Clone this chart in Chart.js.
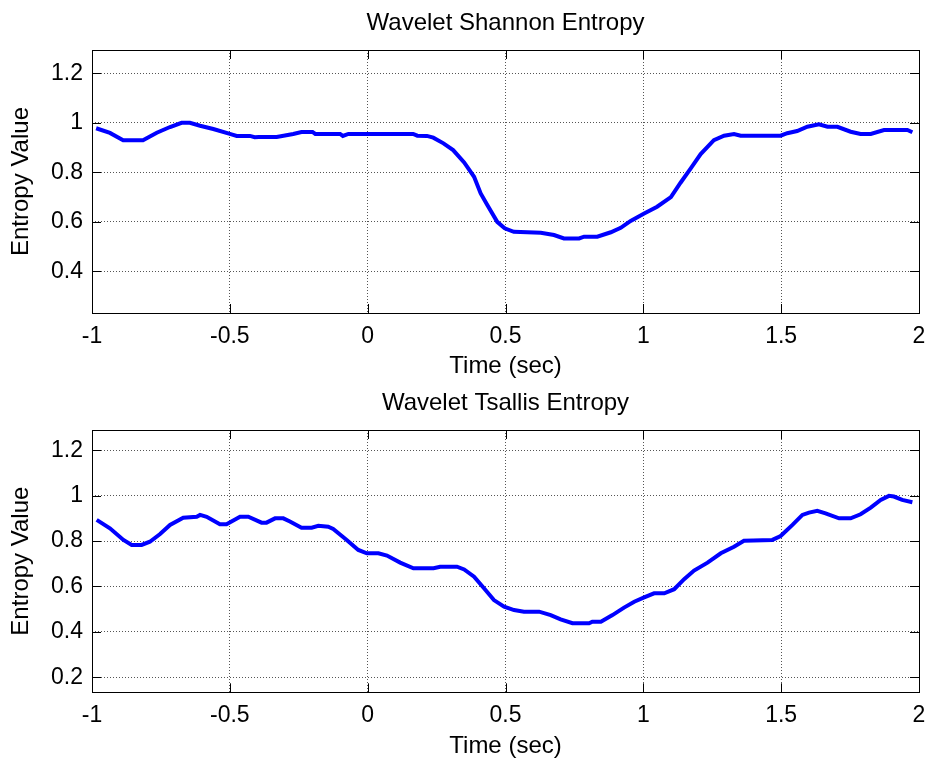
<!DOCTYPE html>
<html>
<head>
<meta charset="utf-8">
<script src="https://cdn.jsdelivr.net/npm/chart.js@4.4.1/dist/chart.umd.min.js"></script>
<style>
  html, body { margin: 0; padding: 0; background: #fff; }
  #wrap { position: relative; width: 928px; height: 762px; }
  canvas { position: absolute; left: 0; }
</style>
</head>
<body>
<div id="wrap">
  <canvas id="top" width="928" height="381" style="top:0"></canvas>
  <canvas id="bottom" width="928" height="381" style="top:381px"></canvas>
</div>
<script>
// values
var shannonTime = [-0.985,-0.935,-0.887,-0.815,-0.765,-0.717,-0.675,-0.645,-0.608,-0.56,-0.5,-0.475,-0.427,-0.41,-0.395,-0.33,-0.27,-0.24,-0.2,-0.19,-0.1,-0.09,-0.07,0.165,0.18,0.215,0.238,0.275,0.31,0.35,0.386,0.41,0.434,0.47,0.497,0.53,0.628,0.676,0.712,0.767,0.785,0.833,0.882,0.918,0.954,1.003,1.05,1.1,1.135,1.172,1.208,1.256,1.293,1.329,1.353,1.498,1.522,1.558,1.595,1.637,1.668,1.704,1.752,1.788,1.825,1.873,1.958,1.976];
var shannonValue = [0.978,0.959,0.93,0.93,0.96,0.983,1.0,1.0,0.988,0.975,0.955,0.947,0.947,0.942,0.943,0.943,0.955,0.963,0.963,0.955,0.955,0.947,0.955,0.955,0.948,0.947,0.94,0.917,0.89,0.84,0.782,0.715,0.668,0.6,0.574,0.56,0.556,0.547,0.533,0.533,0.54,0.54,0.558,0.576,0.604,0.634,0.661,0.70,0.758,0.816,0.874,0.93,0.948,0.955,0.948,0.948,0.958,0.967,0.984,0.994,0.984,0.984,0.964,0.955,0.955,0.971,0.971,0.962];

var tsallisTime = [-0.983,-0.935,-0.886,-0.856,-0.82,-0.79,-0.753,-0.717,-0.669,-0.62,-0.608,-0.584,-0.536,-0.512,-0.463,-0.433,-0.385,-0.367,-0.336,-0.306,-0.282,-0.24,-0.203,-0.179,-0.143,-0.125,-0.076,-0.034,-0.003,0.039,0.07,0.118,0.166,0.239,0.263,0.324,0.35,0.386,0.422,0.458,0.495,0.531,0.567,0.622,0.664,0.7,0.743,0.803,0.815,0.846,0.888,0.93,0.967,1.003,1.039,1.076,1.112,1.148,1.184,1.233,1.281,1.329,1.365,1.468,1.498,1.541,1.577,1.601,1.631,1.661,1.71,1.752,1.788,1.825,1.861,1.891,1.909,1.939,1.976];
var tsallisValue = [0.893,0.856,0.805,0.783,0.783,0.797,0.831,0.871,0.903,0.907,0.915,0.907,0.874,0.874,0.907,0.907,0.881,0.881,0.90,0.90,0.886,0.859,0.859,0.867,0.863,0.853,0.805,0.761,0.746,0.746,0.736,0.705,0.68,0.68,0.687,0.687,0.675,0.643,0.592,0.54,0.511,0.496,0.489,0.489,0.474,0.455,0.438,0.438,0.445,0.445,0.474,0.507,0.533,0.552,0.57,0.57,0.588,0.632,0.67,0.705,0.746,0.775,0.801,0.805,0.822,0.871,0.915,0.925,0.933,0.922,0.90,0.90,0.918,0.947,0.981,0.999,0.996,0.981,0.971];

var xTicks = [-1, -0.5, 0, 0.5, 1, 1.5, 2];
var shannonYTicks = [0.4, 0.6, 0.8, 1, 1.2];
var tsallisYTicks = [0.2, 0.4, 0.6, 0.8, 1, 1.2];

var FONT = "'Liberation Sans', Arial, sans-serif";

// matlab style box with inward ticks on all four sides
var boxPlugin = {
  id: 'matlabBox',
  afterDraw: function(chart) {
    var ctx = chart.ctx;
    var a = chart.chartArea;
    var xs = chart.scales.x, ys = chart.scales.y;
    var tl = 9;
    ctx.save();
    ctx.strokeStyle = '#000';
    ctx.lineWidth = 1;
    ctx.setLineDash([]);
    ctx.beginPath();
    xs.ticks.forEach(function(t) {
      var px = Math.round(xs.getPixelForValue(t.value)) + 0.5;
      ctx.moveTo(px, a.bottom); ctx.lineTo(px, a.bottom - tl);
      ctx.moveTo(px, a.top); ctx.lineTo(px, a.top + tl);
    });
    ys.ticks.forEach(function(t) {
      var py = Math.round(ys.getPixelForValue(t.value)) + 0.5;
      ctx.moveTo(a.left, py); ctx.lineTo(a.left + tl, py);
      ctx.moveTo(a.right, py); ctx.lineTo(a.right - tl, py);
    });
    ctx.stroke();
    ctx.strokeRect(Math.round(a.left) + 0.5, Math.round(a.top) + 0.5,
                   Math.round(a.right - a.left), Math.round(a.bottom - a.top));
    ctx.restore();
  }
};

function fmt(v) { return String(Math.round(v * 100) / 100); }

function makeChart(id, title, times, values, yMin, yMax, yTicks, cfg) {
  var pts = times.map(function(t, i) { return {x: t, y: values[i]}; });
  return new Chart(document.getElementById(id), {
    type: 'line',
    data: {
      datasets: [{
        data: pts,
        borderColor: '#0000ff',
        borderWidth: 4,
        pointRadius: 0,
        fill: false,
        tension: 0
      }]
    },
    options: {
      responsive: false,
      animation: false,
      layout: { padding: { left: 0, right: 9, top: 0, bottom: 0 } },
      plugins: {
        legend: { display: false },
        tooltip: { enabled: false },
        title: {
          display: true,
          fullSize: false,
          text: title,
          color: '#000',
          font: { family: FONT, size: 24, weight: 'normal' },
          padding: { top: cfg.titleTop, bottom: cfg.titleBottom }
        }
      },
      scales: {
        x: {
          type: 'linear',
          min: -1, max: 2,
          afterBuildTicks: function(s) { s.ticks = xTicks.map(function(v) { return {value: v}; }); },
          afterFit: function(s) { s.height = cfg.xHeight; s.paddingLeft = 0; s.paddingRight = 0; },
          grid: { color: '#555', lineWidth: 1, drawTicks: false },
          border: { display: false, dash: [1, 2] },
          ticks: { color: '#000', font: { family: FONT, size: 23 }, padding: 10, maxRotation: 0, callback: fmt },
          title: {
            display: true, text: 'Time (sec)', color: '#000',
            font: { family: FONT, size: 24 }, padding: { top: 0, bottom: cfg.xTitleBottom }
          }
        },
        y: {
          min: yMin, max: yMax,
          afterBuildTicks: function(s) { s.ticks = yTicks.map(function(v) { return {value: v}; }); },
          afterFit: function(s) { s.width = 92; s.paddingTop = 0; s.paddingBottom = 0; },
          grid: { color: '#555', lineWidth: 1, drawTicks: false },
          border: { display: false, dash: [1, 2] },
          ticks: { color: '#000', font: { family: FONT, size: 23 }, padding: 9, callback: fmt },
          title: {
            display: true, text: 'Entropy Value', color: '#000',
            font: { family: FONT, size: 24 }, padding: { top: 6.5, bottom: 0 }
          }
        }
      }
    },
    plugins: [boxPlugin]
  });
}

makeChart('top', 'Wavelet Shannon Entropy', shannonTime, shannonValue, 0.232, 1.294, shannonYTicks,
  { titleTop: 8.6, titleBottom: 12.6, xHeight: 68, xTitleBottom: 0.5 });
makeChart('bottom', 'Wavelet Tsallis Entropy', tsallisTime, tsallisValue, 0.134, 1.289, tsallisYTicks,
  { titleTop: 7.6, titleBottom: 12.6, xHeight: 69.7, xTitleBottom: 1 });
</script>
</body>
</html>
